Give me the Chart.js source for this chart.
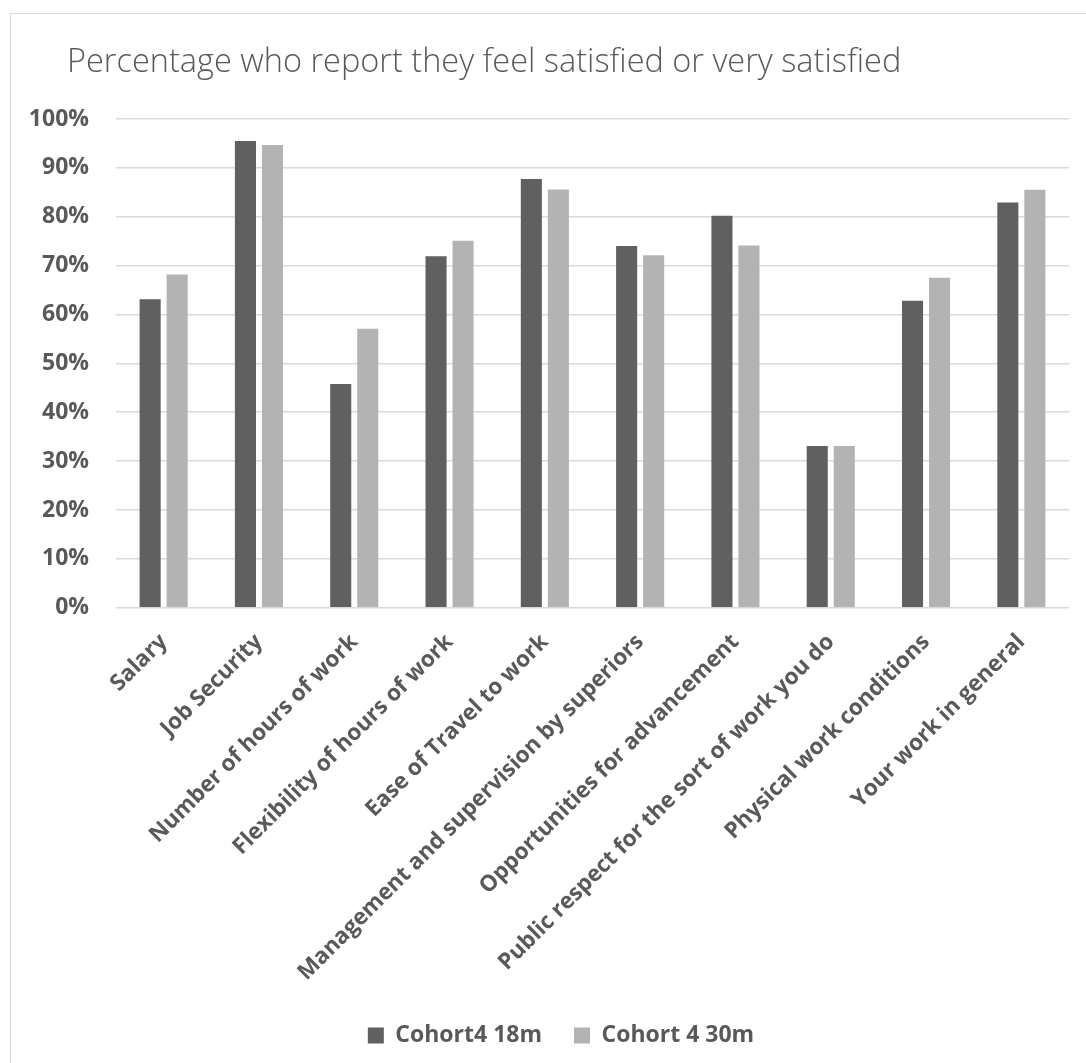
<!DOCTYPE html>
<html>
<head>
<meta charset="utf-8">
<script src="https://cdn.jsdelivr.net/npm/chart.js@4"></script>
<style>
  html,body{margin:0;padding:0;background:#fff;}
  #box{position:absolute;left:10px;top:13px;width:1076px;height:1050px;border-left:1px solid #d9d9d9;border-top:1px solid #d9d9d9;}
  #box canvas{display:block;}
</style>
</head>
<body>
<div id="box"><canvas id="chart" width="1075" height="1049"></canvas></div>
<script>
const TITLE = "Percentage who report they feel satisfied or very satisfied";
const CATEGORIES = [
  "Salary",
  "Job Security",
  "Number of hours of work",
  "Flexibility of hours of work",
  "Ease of Travel to work",
  "Management and supervision by superiors",
  "Opportunities for advancement",
  "Public respect for the sort of work you do",
  "Physical work conditions",
  "Your work in general"
];
const SERIES_NAMES = ["Cohort4 18m", "Cohort 4 30m"];
const COHORT_18M = [63.1, 95.5, 45.8, 71.9, 87.7, 74.0, 80.2, 33.1, 62.8, 82.9];
const COHORT_30M = [68.2, 94.7, 57.1, 75.1, 85.6, 72.1, 74.1, 33.1, 67.5, 85.5];
const Y_TICKS = [0, 10, 20, 30, 40, 50, 60, 70, 80, 90, 100];

const TEXT = "#595959";
const GRID = "#d9d9d9";

// title and legend sit a bit right of where chart.js centres/starts them
const nudge = {
  id: "nudge",
  afterLayout(chart) {
    const t = chart.titleBlock, l = chart.legend;
    if (t) { t.left += 42; t.right += 42; }
    if (l) { l.left += 14; l.right += 14; }
  }
};

new Chart(document.getElementById("chart"), {
  type: "bar",
  data: {
    labels: CATEGORIES,
    datasets: [
      {label: SERIES_NAMES[0], data: COHORT_18M, backgroundColor: "#606060", categoryPercentage: 0.567, barPercentage: 0.78},
      {label: SERIES_NAMES[1], data: COHORT_30M, backgroundColor: "#b3b3b3", categoryPercentage: 0.567, barPercentage: 0.78}
    ]
  },
  plugins: [nudge],
  options: {
    responsive: false,
    animation: false,
    layout: {padding: {left: 14, right: 17, top: 0, bottom: 6}},
    plugins: {
      title: {
        display: true, text: TITLE, align: "start", color: TEXT,
        font: {family: "'Open Sans'", size: 32.5, weight: 300},
        padding: {top: 29, bottom: 37}
      },
      legend: {
        position: "bottom",
        labels: {color: TEXT, boxWidth: 16, boxHeight: 16, padding: 32,
          font: {family: "'Open Sans'", size: 23, weight: "bold"}}
      },
      tooltip: {enabled: false}
    },
    scales: {
      x: {
        afterFit: s => { s.height -= 7; },
        grid: {display: false},
        border: {display: false},
        ticks: {color: TEXT, autoSkip: false, minRotation: 45, maxRotation: 45, padding: 13,
          font: {family: "'Open Sans'", size: 22.5, weight: "bold"}}
      },
      y: {
        min: 0, max: 100,
        afterBuildTicks: s => { s.ticks = Y_TICKS.map(v => ({value: v})); },
        afterFit: s => { s.width = 91; },
        grid: {color: GRID, lineWidth: 1.5, drawTicks: false},
        border: {display: false},
        ticks: {color: TEXT, padding: 27, callback: v => v + "%",
          font: {family: "'Open Sans'", size: 23, weight: "bold"}}
      }
    }
  }
});
</script>
</body>
</html>
